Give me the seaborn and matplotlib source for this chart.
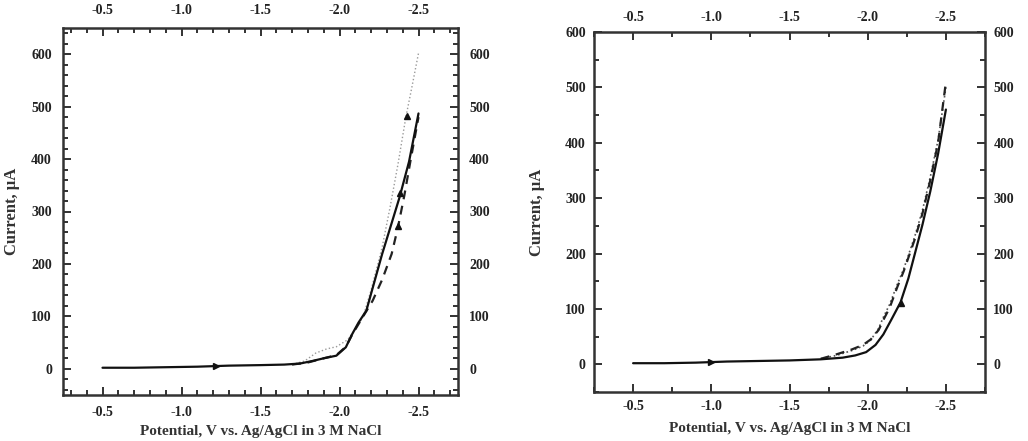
import numpy as np
import pandas as pd
import matplotlib
matplotlib.use("Agg")
import matplotlib.pyplot as plt
import seaborn as sns
from matplotlib.ticker import MultipleLocator

sns.set_style("ticks")
plt.rcParams['font.family'] = ['Liberation Serif', 'DejaVu Serif']
plt.rcParams['font.weight'] = 'bold'

# ---------------- Left panel data ----------------
L_solid_V = [-0.5, -0.7, -0.9, -1.1, -1.3, -1.5, -1.65, -1.75, -1.83, -1.9, -1.98, -2.04, -2.08, -2.12, -2.17, -2.22, -2.27, -2.32, -2.38, -2.44, -2.5]
L_solid_I = [2, 2, 3, 4, 6, 7, 8, 10, 15, 20, 25, 41, 66, 88, 111, 165, 219, 268, 327, 395, 487]
L_dash_V = [-1.7, -1.8, -1.9, -1.98, -2.04, -2.08, -2.12, -2.16, -2.21, -2.27, -2.33, -2.37, -2.41, -2.45, -2.5]
L_dash_I = [8, 12, 20, 26, 42, 65, 85, 105, 130, 170, 219, 270, 330, 398, 480]
L_dot_V = [-1.7, -1.78, -1.85, -1.92, -1.98, -2.05, -2.1, -2.15, -2.2, -2.27, -2.32, -2.37, -2.42, -2.46, -2.5]
L_dot_I = [8, 15, 30, 38, 42, 55, 75, 100, 150, 232, 308, 390, 480, 540, 602]
L_arrow_right = ([-1.22], [5])
L_arrow_up = ([-2.43, -2.38, -2.37], [483, 335, 272])

# ---------------- Right panel data ----------------
R_solid_V = [-0.5, -0.7, -0.9, -1.1, -1.3, -1.5, -1.7, -1.84, -1.92, -1.99, -2.05, -2.1, -2.15, -2.21, -2.26, -2.3, -2.35, -2.4, -2.45, -2.5]
R_solid_I = [2, 2, 3, 5, 6, 7, 9, 12, 16, 22, 35, 54, 80, 112, 155, 198, 252, 312, 380, 460]
R_dash_V = [-1.7, -1.8, -1.9, -1.97, -2.02, -2.07, -2.1, -2.14, -2.19, -2.23, -2.3, -2.35, -2.4, -2.45, -2.5]
R_dash_I = [10, 18, 27, 35, 45, 62, 80, 102, 140, 168, 225, 272, 332, 400, 510]
R_dot_V = [-1.7, -1.8, -1.9, -1.97, -2.02, -2.07, -2.1, -2.14, -2.19, -2.23, -2.3, -2.35, -2.4, -2.45, -2.5]
R_dot_I = [10, 16, 25, 33, 44, 65, 85, 108, 145, 172, 230, 278, 338, 405, 500]
R_arrow_right = ([-1.0], [4])
R_arrow_up = ([-2.21], [110])

xticks = [-0.5, -1.0, -1.5, -2.0, -2.5]

fig = plt.figure(figsize=(10.28, 4.41), dpi=100)
W, H = 1028, 441
ax1 = fig.add_axes([63 / W, 1 - 395 / H, (458 - 63) / W, (395 - 28) / H])
ax2 = fig.add_axes([594 / W, 1 - 392 / H, (985 - 594) / W, (392 - 32) / H])


def draw(ax, sV, sI, dV, dI, oV, oI, ar, au, dotcolor, dotlw):
    sns.lineplot(data=pd.DataFrame({'V': oV, 'I': oI}), x='V', y='I', ax=ax, sort=False,
                 estimator=None, color=dotcolor, linestyle=':', linewidth=dotlw)
    sns.lineplot(data=pd.DataFrame({'V': dV, 'I': dI}), x='V', y='I', ax=ax, sort=False,
                 estimator=None, color='#222222', linestyle=(0, (4, 3)), linewidth=1.6)
    sns.lineplot(data=pd.DataFrame({'V': sV, 'I': sI}), x='V', y='I', ax=ax, sort=False,
                 estimator=None, color='#111111', linestyle='-', linewidth=1.6)
    ax.plot(ar[0], ar[1], linestyle='none', marker='>', color='#111111', markersize=5)
    ax.plot(au[0], au[1], linestyle='none', marker='^', color='#111111', markersize=5)


draw(ax1, L_solid_V, L_solid_I, L_dash_V, L_dash_I, L_dot_V, L_dot_I,
     L_arrow_right, L_arrow_up, '#9a9a9a', 1.0)
draw(ax2, R_solid_V, R_solid_I, R_dash_V, R_dash_I, R_dot_V, R_dot_I,
     R_arrow_right, R_arrow_up, '#555555', 1.2)

ax1.set_xlim(-0.25, -2.75)
ax1.set_ylim(-50, 650)
ax2.set_xlim(-0.25, -2.75)
ax2.set_ylim(-50, 600)

for ax, xminor, yminor, lpad in [(ax1, 0.1, 20, 8), (ax2, 0.25, 50, 6)]:
    ax.set_xticks(xticks)
    ax.set_xticklabels([f"{v:.1f}" for v in xticks])
    ax.yaxis.set_major_locator(MultipleLocator(100))
    ax.xaxis.set_minor_locator(MultipleLocator(xminor))
    ax.yaxis.set_minor_locator(MultipleLocator(yminor))
    ax.tick_params(which='both', direction='in', top=True, right=True,
                   labeltop=True, labelright=True, width=1.3, colors='#222222',
                   labelsize=10, pad=lpad)
    ax.tick_params(which='major', length=6)
    ax.tick_params(which='minor', length=3.5)
    for lab in ax.get_xticklabels() + ax.get_yticklabels():
        lab.set_fontweight('bold')
    for s in ax.spines.values():
        s.set_linewidth(1.8)
        s.set_color('#333333')
    ax.set_xlabel("Potential, V vs. Ag/AgCl in 3 M NaCl", fontsize=11, fontweight='bold',
                  color='#333333')
    ax.set_ylabel("Current, \u03bcA", fontsize=12, fontweight='bold', color='#333333')

ax1.xaxis.labelpad = 4
ax1.yaxis.labelpad = 8
ax2.xaxis.labelpad = 6
ax2.yaxis.labelpad = 14

fig.savefig("out.png", dpi=100)
